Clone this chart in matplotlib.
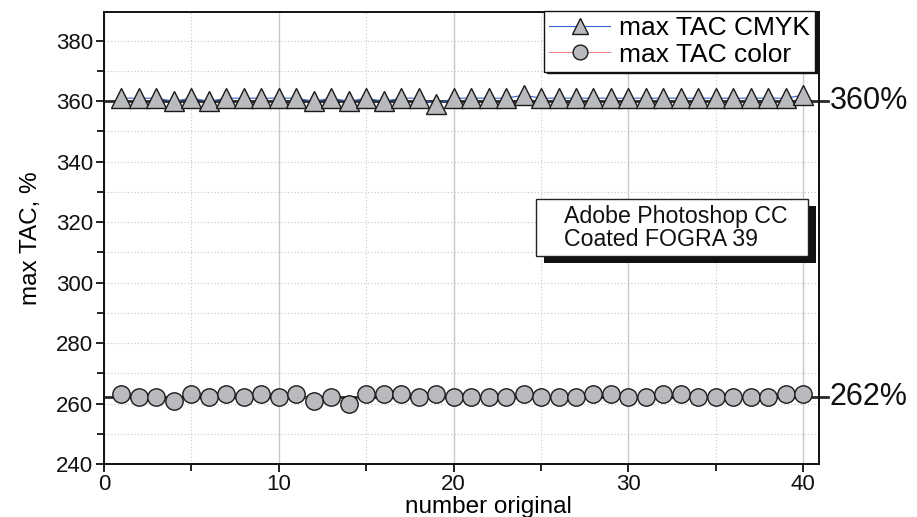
import matplotlib
matplotlib.use("Agg")
import matplotlib.pyplot as plt
import matplotlib.transforms as mtransforms
from matplotlib.patches import Rectangle
from matplotlib.ticker import MultipleLocator

plt.rcParams['font.family'] = ['Liberation Sans', 'DejaVu Sans']

# Image number and the maximum total area coverage measured for each
originals = list(range(1, 41))
tac_cmyk = [361, 361, 361, 360, 361, 360, 361, 361, 361, 361,
            361, 360, 361, 360, 361, 360, 361, 361, 359, 361,
            361, 361, 361, 362, 361, 361, 361, 361, 361, 361,
            361, 361, 361, 361, 361, 361, 361, 361, 361, 362]
tac_color = [263, 262, 262, 261, 263, 262, 263, 262, 263, 262,
             263, 261, 262, 260, 263, 263, 263, 262, 263, 262,
             262, 262, 262, 263, 262, 262, 262, 263, 263, 262,
             262, 263, 263, 262, 262, 262, 262, 262, 263, 263]
series_names = ["max TAC CMYK", "max TAC color"]
ref_levels = [360, 262]
ref_labels = ["360%", "262%"]
note_lines = ["Adobe Photoshop CC", "Coated FOGRA 39"]

W, H = 917, 517
fig = plt.figure(figsize=(W / 100, H / 100), dpi=100)
L, R, T, B = 104, 819, 12, 464
ax = fig.add_axes([L / W, 1 - B / H, (R - L) / W, (B - T) / H])

ax.set_xlim(0, 40.9)
ax.set_ylim(240, 389.5)

# grid
ax.xaxis.set_major_locator(MultipleLocator(10))
ax.xaxis.set_minor_locator(MultipleLocator(5))
ax.yaxis.set_major_locator(MultipleLocator(20))
ax.yaxis.set_minor_locator(MultipleLocator(10))
ax.grid(axis='x', which='major', color='#c8c8c8', lw=1.0, ls='-')
ax.grid(axis='x', which='minor', color='#c8c8c8', lw=0.8, ls=(0, (1, 2)))
ax.grid(axis='y', which='both', color='#c4c4c4', lw=0.8, ls=(0, (1, 2)))
ax.set_axisbelow(True)

# reference levels, running out past the right axis to their labels
blend = mtransforms.blended_transform_factory(ax.transAxes, ax.transData)
for lvl, lab in zip(ref_levels, ref_labels):
    ax.plot([0, 1.012], [lvl, lvl], transform=blend, color='#2a2a2a',
            lw=2.0, clip_on=False, zorder=2)
    ax.text(1.015, lvl, lab, transform=blend, ha='left', va='center',
            fontsize=22, color='#111111')

marker_face = '#b9babd'
ax.plot(originals, tac_cmyk, color='#3b62c9', lw=0.8, marker='^', ms=14,
        mfc=marker_face, mec='#1a1a1a', mew=1.0, label=series_names[0], zorder=3)
ax.plot(originals, tac_color, color='#f08a8a', lw=0.8, marker='o', ms=12.5,
        mfc=marker_face, mec='#1a1a1a', mew=1.0, label=series_names[1], zorder=3)

for s in ax.spines.values():
    s.set_linewidth(1.4)
    s.set_color('#111111')

ax.tick_params(which='major', direction='out', length=6, width=1.3,
               labelsize=16, colors='#111111', pad=2)
ax.tick_params(axis='x', which='major', pad=1)
ax.tick_params(which='minor', direction='out', length=5, width=1.2)
ax.tick_params(top=False, right=False)

ax.set_xlabel("number original", fontsize=17.5)
ax.xaxis.set_label_coords(0.538, -0.071)
ax.xaxis.label.set_va('top')
ax.set_ylabel("max TAC, %", fontsize=17.5, labelpad=10)

leg = ax.legend(loc='upper right', bbox_to_anchor=(0.995, 1.003), fontsize=19,
                frameon=True, fancybox=False, edgecolor='#111111',
                framealpha=1, borderpad=0.2, handlelength=2.3,
                handletextpad=0.35, labelspacing=0.1, borderaxespad=0,
                markerscale=0.85,
                shadow={'color': '#111111', 'alpha': 1, 'ox': 2, 'oy': -1})
leg.get_frame().set_linewidth(1.0)
leg.set_zorder(10)

# note box with a solid drop shadow
bx0, bx1 = 0.604, 0.985
by0, by1 = 0.460, 0.586
ax.add_patch(Rectangle((bx0 + 0.011, by0 - 0.016), bx1 - bx0, by1 - by0,
                       transform=ax.transAxes, facecolor='#111111',
                       edgecolor='none', zorder=8))
ax.add_patch(Rectangle((bx0, by0), bx1 - bx0, by1 - by0,
                       transform=ax.transAxes, facecolor='white',
                       edgecolor='#222222', lw=1.0, zorder=9))
ax.text(0.643, (by0 + by1) / 2, "\n".join(note_lines), transform=ax.transAxes,
        ha='left', va='center', fontsize=16.7, linespacing=1.0,
        color='#111111', zorder=10)

fig.savefig("out.png", dpi=100)
